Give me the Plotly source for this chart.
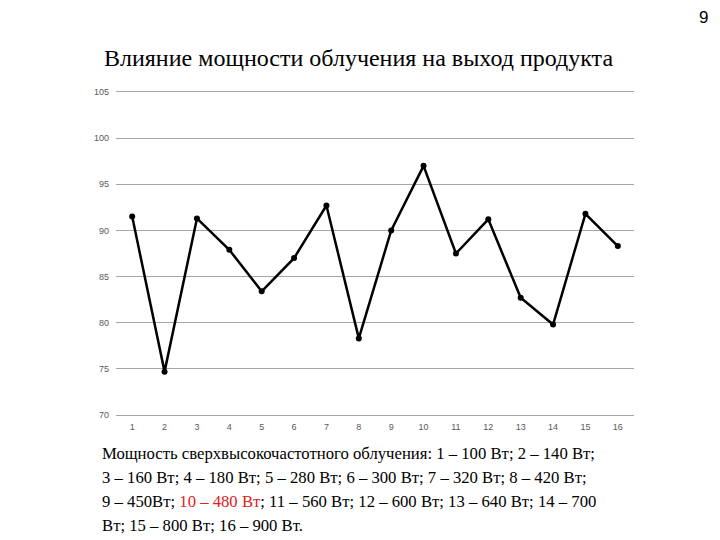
import plotly.graph_objects as go

categories = [str(i) for i in range(1, 17)]
values = [91.5, 74.7, 91.3, 87.9, 83.4, 87.0, 92.7, 78.3, 90.0, 97.0, 87.5, 91.2, 82.7, 79.8, 91.8, 88.3]
y_ticks = [70, 75, 80, 85, 90, 95, 100, 105]

title_text = "Влияние мощности облучения на выход продукта"
caption_lines = [
    "Мощность сверхвысокочастотного облучения: 1 – 100 Вт; 2 – 140 Вт;",
    "3 – 160 Вт; 4 – 180 Вт; 5 – 280 Вт; 6 – 300 Вт; 7 – 320 Вт; 8 – 420 Вт;",
    "9 – 450Вт; <span style='color:#e0201b'>10 – 480 Вт</span>; 11 – 560 Вт; 12 – 600 Вт; 13 – 640 Вт; 14 – 700",
    "Вт; 15 – 800 Вт; 16 – 900 Вт.",
]
page_number = "9"

W, H = 720, 540
L, R, T, B = 116, 634, 92, 415

fig = go.Figure()
fig.add_trace(go.Scatter(
    x=categories, y=values, mode="lines+markers",
    line=dict(color="black", width=2.5),
    marker=dict(color="black", size=6),
    showlegend=False, hoverinfo="skip",
))

def px_x(p):
    return (p - L) / (R - L)

def px_y(p):
    return (B - p) / (B - T)

annotations = [
    dict(text=title_text, x=px_x(358), y=px_y(58), xref="paper", yref="paper",
         xanchor="center", yanchor="middle", showarrow=False,
         font=dict(family="Liberation Serif", size=24, color="black")),
    dict(text=page_number, x=px_x(703), y=px_y(17), xref="paper", yref="paper",
         xanchor="center", yanchor="middle", showarrow=False,
         font=dict(family="Liberation Sans", size=17, color="black")),
]
line_y = [453, 477, 501, 525]
for txt, yy in zip(caption_lines, line_y):
    annotations.append(dict(text=txt, x=px_x(100), y=px_y(yy), xref="paper", yref="paper",
                            xanchor="left", yanchor="middle", showarrow=False, align="left",
                            font=dict(family="Liberation Serif", size=16.7, color="black")))

fig.update_layout(
    width=W, height=H,
    margin=dict(l=L, r=W - R, t=T, b=H - B, pad=0),
    paper_bgcolor="white", plot_bgcolor="white",
    annotations=annotations,
    xaxis=dict(type="category", range=[-0.5, 15.5], showgrid=False,
               showline=True, linecolor="#a6a6a6", linewidth=1.2, mirror=True, ticks="",
               tickfont=dict(family="Liberation Sans", size=9, color="#595959"),
               ticklabelstandoff=3),
    yaxis=dict(range=[70, 105], tickvals=y_ticks, showgrid=True, gridcolor="#a6a6a6",
               gridwidth=1.2, zeroline=False, showline=False, ticks="",
               tickfont=dict(family="Liberation Sans", size=9, color="#595959"),
               ticklabelstandoff=6),
)

fig.write_html("out.html")
